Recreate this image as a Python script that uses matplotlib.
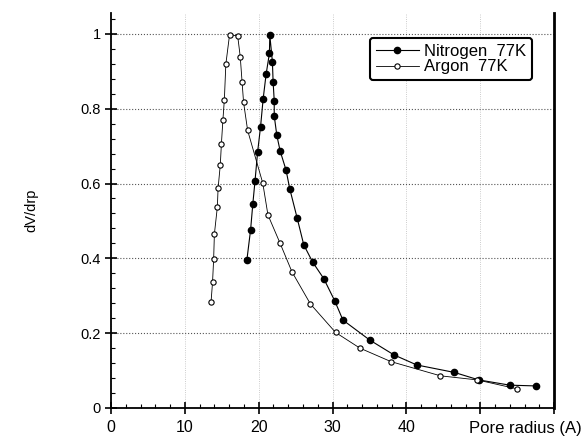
import matplotlib
matplotlib.use('Agg')
import matplotlib.pyplot as plt
from matplotlib.ticker import MultipleLocator

plt.rcParams['font.family'] = ['Liberation Sans', 'DejaVu Sans']

# Nitrogen 77K (filled circles)
n2_r = [18.4, 18.9, 19.2, 19.5, 19.85, 20.25, 20.6, 21.0, 21.45, 21.5,
        21.85, 21.95, 22.1, 22.1, 22.45, 22.9, 23.7, 24.2, 25.2, 26.1,
        27.3, 28.8, 30.3, 31.4, 35.0, 38.3, 41.4, 46.5, 49.8, 54.0, 57.5]
n2_v = [0.396, 0.476, 0.545, 0.607, 0.684, 0.752, 0.826, 0.892, 0.948, 0.997,
        0.926, 0.872, 0.821, 0.781, 0.729, 0.687, 0.636, 0.586, 0.508, 0.436,
        0.390, 0.346, 0.286, 0.235, 0.182, 0.142, 0.115, 0.095, 0.075, 0.061, 0.059]

# Argon 77K (open circles)
ar_r = [13.55, 13.75, 13.9, 14.0, 14.4, 14.5, 14.8, 14.95, 15.15, 15.35, 15.55, 16.05,
        17.15, 17.5, 17.75, 17.95, 18.5, 20.55, 21.25, 22.9, 24.5, 27.0,
        30.4, 33.7, 37.9, 44.6, 49.6, 55.0]
ar_v = [0.284, 0.336, 0.398, 0.465, 0.537, 0.587, 0.65, 0.706, 0.769, 0.824, 0.919, 0.997,
        0.995, 0.939, 0.871, 0.817, 0.742, 0.601, 0.516, 0.44, 0.364, 0.278,
        0.202, 0.16, 0.124, 0.086, 0.075, 0.051]

fig = plt.figure(figsize=(5.84, 4.38), dpi=100)
ax = fig.add_axes([0.190, 0.0685, 0.759, 0.902])

ax.plot(n2_r, n2_v, '-', color='black', lw=0.8, marker='o', ms=4.5,
        mfc='black', mec='black', label='Nitrogen  77K')
ax.plot(ar_r, ar_v, '-', color='black', lw=0.6, marker='o', ms=3.8,
        mfc='white', mec='black', mew=0.8, label='Argon  77K')

ax.set_xlim(0, 60)
ax.set_ylim(0, 1.056)
ax.set_xticks([0, 10, 20, 30, 40, 50, 60])
ax.set_xticklabels(['0', '10', '20', '30', '40', '', ''])
ax.set_yticks([0, 0.2, 0.4, 0.6, 0.8, 1.0])
ax.set_yticklabels(['0', '0.2', '0.4', '0.6', '0.8', '1'])
ax.xaxis.set_minor_locator(MultipleLocator(2))
ax.yaxis.set_minor_locator(MultipleLocator(0.04))
ax.tick_params(which='major', direction='inout', length=8, width=1.2, labelsize=10.5)
ax.tick_params(axis='x', labelsize=11.5, pad=5)
ax.tick_params(which='minor', direction='in', length=3, width=0.8)

ax.spines['top'].set_visible(False)
ax.spines['left'].set_linewidth(1.3)
ax.spines['bottom'].set_linewidth(1.3)
ax.spines['right'].set_linewidth(2)

ax.grid(axis='y', which='major', color='#555555', linestyle=':', lw=0.8)
ax.grid(axis='x', which='major', color='#bbbbbb', linestyle=':', lw=0.6)

ax.set_ylabel('dV/drp', fontsize=10.5, labelpad=30)
ax.text(1.062, -0.053, 'Pore radius (A)', transform=ax.transAxes,
        ha='right', va='center', fontsize=12)

leg = ax.legend(loc='upper right', bbox_to_anchor=(0.95, 0.937), borderaxespad=0,
                fontsize=12, frameon=True, fancybox=True, handlelength=2.6,
                handletextpad=0.3, borderpad=0.35, labelspacing=0.05)
leg.get_frame().set_edgecolor('black')
leg.get_frame().set_linewidth(1.5)
leg.get_frame().set_alpha(1)

fig.savefig('out.png', dpi=100)
